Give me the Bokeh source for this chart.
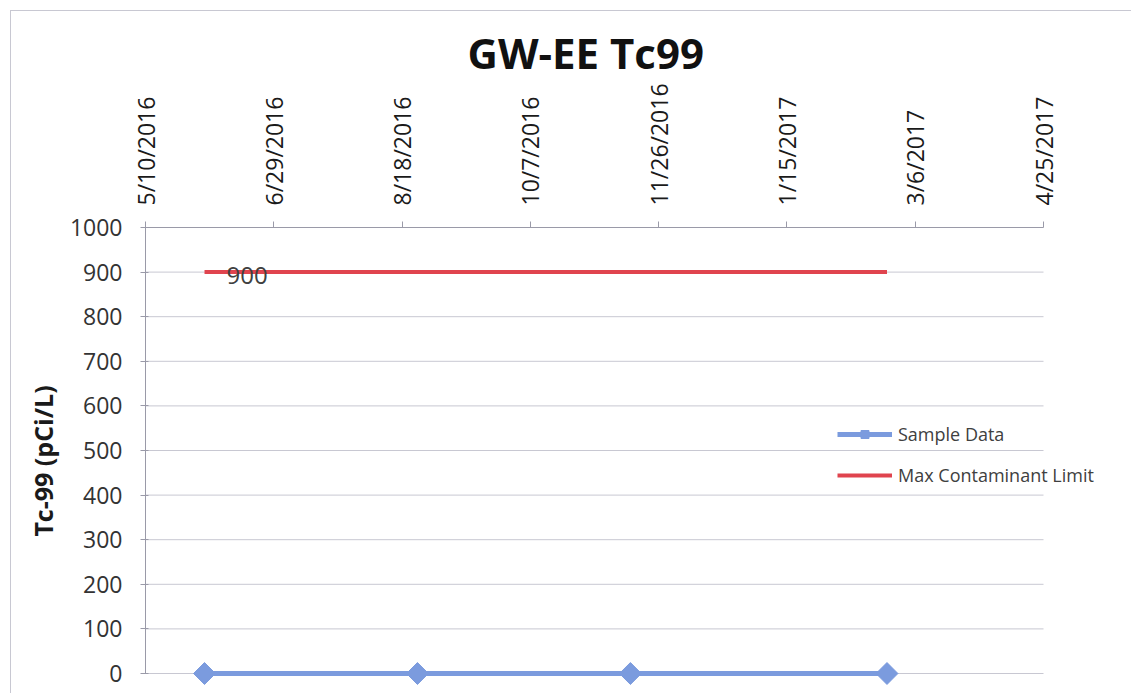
import math
import pandas as pd
from bokeh.plotting import figure
from bokeh.models import (Range1d, FixedTicker, LinearAxis, Legend, LegendItem,
                          ColumnDataSource)
from bokeh.embed import file_html
from bokeh.resources import INLINE
from bokeh.core.properties import value

# ---- data ----
x_tick_labels = ["5/10/2016", "6/29/2016", "8/18/2016", "10/7/2016",
                 "11/26/2016", "1/15/2017", "3/6/2017", "4/25/2017"]
y_ticks = [0, 100, 200, 300, 400, 500, 600, 700, 800, 900, 1000]
sample_dates = ["6/2/2016", "8/24/2016", "11/15/2016", "2/23/2017"]
sample_values = [0, 0, 0, 0]
mcl_values = [900, 900, 900, 900]
mcl_labels = ["900", "", "", ""]


def to_ms(labels):
    return [pd.Timestamp(pd.to_datetime(s, format="%m/%d/%Y")).timestamp() * 1000.0 for s in labels]


tick_ms = to_ms(x_tick_labels)
sample_ms = to_ms(sample_dates)
y_min, y_max = y_ticks[0], y_ticks[-1]

src = ColumnDataSource(dict(x=sample_ms, sample=sample_values, mcl=mcl_values, lbl=mcl_labels))
grid_src = ColumnDataSource(dict(y=y_ticks[:-1],
                                 x0=[tick_ms[0]] * (len(y_ticks) - 1),
                                 x1=[tick_ms[-1]] * (len(y_ticks) - 1)))

# ---- layout (pixels) ----
OFF = 11                      # css margin (10) + border (1)
W, H = 1132 - OFF, 694 - OFF
FRAME_L, DATA_R = 145 - OFF, 1043 - OFF
FRAME_T, DATA_B = 227 - OFF, 673 - OFF
MB_RIGHT = 0
frame_w = W - MB_RIGHT - FRAME_L
frame_h = H - FRAME_T
x_end = tick_ms[0] + (tick_ms[-1] - tick_ms[0]) * frame_w / (DATA_R - FRAME_L)
y_start = y_max - (y_max - y_min) * frame_h / (DATA_B - FRAME_T)

FONT = "Open Sans"
AXIS_COL = "#9a9aa8"
GRID_COL = "#c8c8d2"

p = figure(width=W, height=H, x_axis_type=None,
           x_range=Range1d(tick_ms[0], x_end), y_range=Range1d(y_start, y_max),
           output_backend="svg", toolbar_location=None,
           min_border_left=FRAME_L, min_border_right=MB_RIGHT,
           min_border_top=FRAME_T, min_border_bottom=0)
p.outline_line_color = None
p.background_fill_color = "white"
p.border_fill_color = "white"
p.styles = {"margin-left": "10px", "margin-top": "10px",
            "border-left": "1px solid #c8c8d2", "border-top": "1px solid #c8c8d2"}

# title
p.title.text = "GW-EE Tc99"
p.title.text_font = FONT
p.title.text_font_size = "42px"
p.title.text_font_style = "bold"
p.title.text_color = "#111111"
p.title.align = "left"
p.title.offset = 322
p.title.standoff = 0

# top date axis
xaxis = LinearAxis(ticker=FixedTicker(ticks=tick_ms), bounds=(tick_ms[0], tick_ms[-1]),
                   major_label_overrides={t: l for t, l in zip(tick_ms, x_tick_labels)})
xaxis.major_label_orientation = math.pi / 2
xaxis.major_label_text_font = FONT
xaxis.major_label_text_font_size = "23px"
xaxis.major_label_text_color = "#1a1a1a"
xaxis.major_label_standoff = 16
xaxis.axis_line_color = AXIS_COL
xaxis.major_tick_line_color = AXIS_COL
xaxis.major_tick_out = 6
xaxis.major_tick_in = 0
xaxis.minor_tick_line_color = None
p.add_layout(xaxis, "above")

# y axis
yax = p.yaxis[0]
yax.ticker = FixedTicker(ticks=y_ticks)
yax.bounds = (y_min, y_max)
yax.major_label_text_font = FONT
yax.major_label_text_font_size = "23px"
yax.major_label_text_color = "#333333"
yax.major_label_standoff = 18
yax.axis_line_color = AXIS_COL
yax.major_tick_line_color = AXIS_COL
yax.major_tick_out = 5
yax.major_tick_in = 3
yax.minor_tick_line_color = None
yax.axis_label = "Tc-99 (pCi/L)"
yax.axis_label_text_font = FONT
yax.axis_label_text_font_size = "25px"
yax.axis_label_text_font_style = "bold"
yax.axis_label_text_color = "#1a1a1a"
yax.axis_label_standoff = 7

p.xgrid.visible = False
p.ygrid.visible = False
p.segment(x0="x0", x1="x1", y0="y", y1="y", source=grid_src,
          line_color=GRID_COL, line_width=1)

# series
mcl_line = p.line("x", "mcl", source=src, line_color="#E0444E", line_width=4)
s_line = p.line("x", "sample", source=src, line_color="#7B9BDE", line_width=5)
s_pts = p.scatter("x", "sample", source=src, marker="square", angle=math.pi / 4, size=15.5,
                  fill_color="#7B9BDE", line_color="#7B9BDE")
p.text("x", "mcl", text="lbl", source=src, x_offset=22, y_offset=3,
       text_baseline="middle", text_align="left",
       text_font=value(FONT), text_font_size="24px", text_color="#404040")

legend = Legend(items=[LegendItem(label="Sample Data", renderers=[s_line, s_pts]),
                       LegendItem(label="Max Contaminant Limit", renderers=[mcl_line])],
                location=(692, 207), orientation="vertical",
                glyph_width=55, glyph_height=20, label_height=20, spacing=17,
                padding=0, margin=0, label_standoff=6,
                border_line_alpha=0, background_fill_alpha=0,
                label_text_font=FONT, label_text_font_size="18px",
                label_text_color="#404040")
p.add_layout(legend)

open("out.html", "w").write(file_html(p, INLINE))
